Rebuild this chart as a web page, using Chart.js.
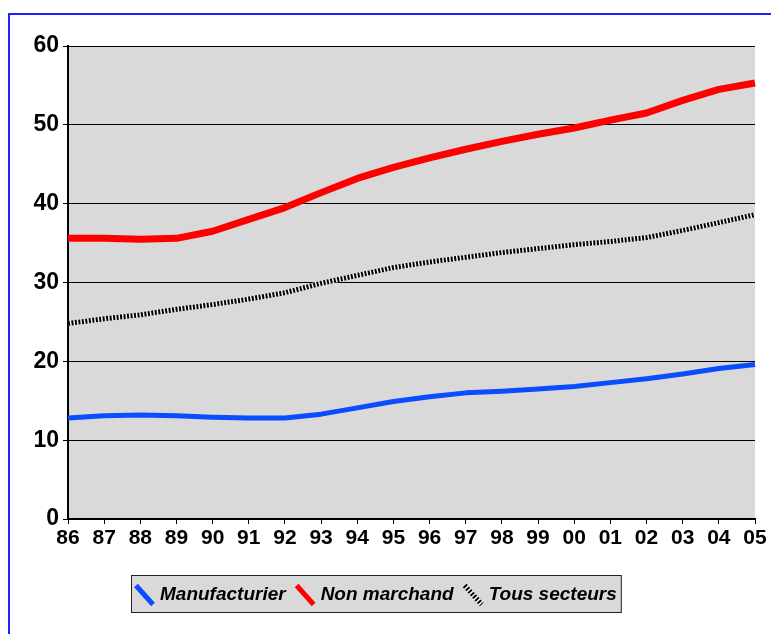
<!DOCTYPE html>
<html>
<head>
<meta charset="utf-8">
<script src="https://cdn.jsdelivr.net/npm/chart.js@4/dist/chart.umd.min.js"></script>
<style>
  html, body { margin: 0; padding: 0; background: #fff; }
  canvas { display: block; }
</style>
</head>
<body>
<canvas id="c" width="771" height="634"></canvas>
<script>
// Years (two-digit labels)
const years = ['86','87','88','89','90','91','92','93','94','95','96','97','98','99','00','01','02','03','04','05'];

// Series values
const manufacturier = [12.8, 13.1, 13.2, 13.1, 12.9, 12.8, 12.8, 13.3, 14.1, 14.9, 15.5, 16.0, 16.2, 16.5, 16.8, 17.3, 17.8, 18.4, 19.1, 19.6];
const nonMarchand   = [35.6, 35.6, 35.5, 35.6, 36.5, 38.0, 39.5, 41.4, 43.2, 44.6, 45.8, 46.9, 47.9, 48.8, 49.6, 50.6, 51.5, 53.1, 54.5, 55.3];
const tousSecteurs  = [24.8, 25.4, 25.9, 26.6, 27.2, 27.9, 28.7, 29.9, 30.9, 31.9, 32.6, 33.2, 33.8, 34.3, 34.8, 35.2, 35.7, 36.6, 37.6, 38.6];

// Axis range
const yMin = 0, yMax = 60, yStep = 10;

const FONT = "'Liberation Sans', Arial, Helvetica, sans-serif";
const BLUE = '#0a4dff';
const RED = '#ff0000';
const HATCH = [2, 1.5];

// Frame, plot background
const backdrop = {
  id: 'backdrop',
  beforeDraw(chart) {
    const { ctx, chartArea: a } = chart;
    ctx.save();
    ctx.fillStyle = '#ffffff';
    ctx.fillRect(0, 0, chart.width, chart.height);
    ctx.strokeStyle = '#1f1fff';
    ctx.lineWidth = 2;
    ctx.strokeRect(9, 14, chart.width + 50, chart.height + 50);
    ctx.fillStyle = '#d9d9d9';
    ctx.fillRect(a.left, a.top, a.right - a.left, a.bottom - a.top);
    ctx.restore();
  }
};

// Boxed legend with diagonal line swatches
const boxLegend = {
  id: 'boxLegend',
  afterDraw(chart) {
    const { ctx } = chart;
    const items = chart.data.datasets.filter(d => !d.hideInLegend);
    ctx.save();
    ctx.font = `italic bold 19px ${FONT}`;
    const sw = 17, sh = 19, gapText = 7, gapItem = 11, pad = 5;
    const widths = items.map(d => ctx.measureText(d.label).width);
    const total = pad * 2 + items.length * (sw + gapText) + widths.reduce((s, w) => s + w, 0) + gapItem * (items.length - 1);
    const cx = 376, top = 575, h = 38;
    const left = Math.round(cx - total / 2);
    ctx.fillStyle = '#d9d9d9';
    ctx.fillRect(left, top, total, h);
    ctx.strokeStyle = '#222';
    ctx.lineWidth = 1;
    ctx.strokeRect(left + 0.5, top + 0.5, total - 1, h - 1);
    let x = left + pad;
    const midY = top + h / 2;
    items.forEach((d, i) => {
      const y0 = midY - sh / 2 + 1;
      if (d.legendHatch) {
        ctx.strokeStyle = '#ffffff';
        ctx.lineWidth = 5;
        ctx.setLineDash([]);
        ctx.beginPath(); ctx.moveTo(x, y0); ctx.lineTo(x + sw, y0 + sh); ctx.stroke();
        ctx.setLineDash(HATCH);
      } else {
        ctx.setLineDash([]);
      }
      ctx.strokeStyle = d.borderColor;
      ctx.lineWidth = 5;
      ctx.beginPath(); ctx.moveTo(x, y0); ctx.lineTo(x + sw, y0 + sh); ctx.stroke();
      ctx.setLineDash([]);
      x += sw + gapText;
      ctx.fillStyle = '#000';
      ctx.textBaseline = 'middle';
      ctx.textAlign = 'left';
      ctx.fillText(d.label, x, midY + 1);
      x += widths[i] + gapItem;
    });
    ctx.restore();
  }
};

new Chart(document.getElementById('c'), {
  type: 'line',
  data: {
    labels: years,
    datasets: [
      { label: 'Manufacturier', data: manufacturier, borderColor: BLUE, borderWidth: 5, order: 1 },
      { label: 'Non marchand', data: nonMarchand, borderColor: RED, borderWidth: 7, order: 1 },
      { label: 'Tous secteurs', data: tousSecteurs, borderColor: '#000000', borderWidth: 5, borderDash: HATCH, borderCapStyle: 'butt', legendHatch: true, order: 0 },
      { label: 'Tous secteurs (fond)', data: tousSecteurs, borderColor: '#f2f2f2', borderWidth: 5, hideInLegend: true, order: 5 }
    ]
  },
  options: {
    responsive: false,
    animation: false,
    devicePixelRatio: 1,
    layout: { padding: { left: 0, right: 16, top: 46, bottom: 0 } },
    elements: {
      point: { radius: 0, hoverRadius: 0 },
      line: { tension: 0, fill: false, borderJoinStyle: 'round' }
    },
    plugins: {
      legend: { display: false },
      tooltip: { enabled: false },
      title: { display: false }
    },
    scales: {
      x: {
        type: 'category',
        offset: false,
        afterFit(s) { s.height = 115; },
        grid: { drawOnChartArea: false, drawTicks: true, tickLength: 5, color: '#000', lineWidth: 1 },
        border: { display: true, color: '#000', width: 2 },
        ticks: { color: '#000', font: { family: FONT, size: 21, weight: 'bold' }, padding: 2, maxRotation: 0, autoSkip: false }
      },
      y: {
        min: yMin, max: yMax,
        afterFit(s) { s.width = 68; },
        grid: { color: '#000', lineWidth: 1, tickLength: 5, drawTicks: true },
        border: { display: true, color: '#000', width: 2 },
        ticks: { stepSize: yStep, color: '#000', font: { family: FONT, size: 23, weight: 'bold' }, padding: 4 }
      }
    }
  },
  plugins: [backdrop, boxLegend]
});
</script>
</body>
</html>
